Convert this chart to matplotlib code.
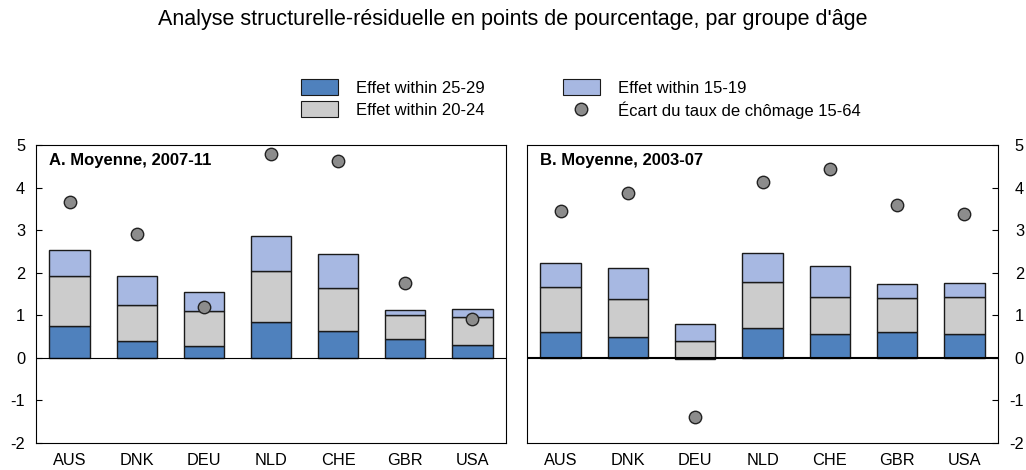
import matplotlib
matplotlib.use("Agg")
import matplotlib.pyplot as plt
import numpy as np
from matplotlib.patches import Patch
from matplotlib.lines import Line2D

plt.rcParams['font.family'] = ['Liberation Sans', 'DejaVu Sans']
plt.rcParams['axes.unicode_minus'] = False

pays = ["AUS", "DNK", "DEU", "NLD", "CHE", "GBR", "USA"]

# Panel A: moyenne 2007-11
a_25_29 = [0.74, 0.40, 0.28, 0.84, 0.64, 0.45, 0.31]
a_20_24 = [1.19, 0.85, 0.81, 1.21, 0.99, 0.55, 0.64]
a_15_19 = [0.61, 0.68, 0.45, 0.82, 0.80, 0.13, 0.19]
a_ecart = [3.65, 2.91, 1.20, 4.79, 4.62, 1.77, 0.92]

# Panel B: moyenne 2003-07
b_25_29 = [0.61, 0.50, -0.03, 0.71, 0.56, 0.61, 0.55]
b_20_24 = [1.06, 0.89, 0.40, 1.08, 0.87, 0.79, 0.89]
b_15_19 = [0.55, 0.72, 0.39, 0.68, 0.72, 0.34, 0.33]
b_ecart = [3.44, 3.87, -1.39, 4.13, 4.44, 3.60, 3.39]

c_25 = "#4f81bd"
c_20 = "#cccccc"
c_15 = "#a7b8e2"
c_dot = "#8c8c8c"

fig = plt.figure(figsize=(10.26, 4.70), dpi=100)
ax_a = fig.add_axes([36/1026, 1 - 443/470, 470/1026, 298/470])
ax_b = fig.add_axes([527/1026, 1 - 443/470, 471/1026, 298/470])


def draw_panel(ax, s25, s20, s15, ecart, label, side):
    x = np.arange(len(pays))
    pos = np.zeros(len(pays))
    neg = np.zeros(len(pays))
    for vals, col in [(s25, c_25), (s20, c_20), (s15, c_15)]:
        vals = np.array(vals)
        bottoms = np.where(vals >= 0, pos, neg)
        ax.bar(x, vals, 0.6, bottom=bottoms, color=col, edgecolor="#1a1a1a", linewidth=1, zorder=2)
        pos = pos + np.clip(vals, 0, None)
        neg = neg + np.clip(vals, None, 0)
    ax.scatter(x, ecart, s=80, color=c_dot, edgecolor="#222222", linewidth=1, zorder=3)
    ax.axhline(0, color="black", linewidth=1.5 if side == "right" else 0.8, zorder=4)
    ax.set_xlim(-0.5, 6.5)
    ax.set_ylim(-2, 5)
    ax.set_xticks(x)
    ax.set_xticklabels(pays, fontsize=11.8)
    ax.set_yticks(range(-2, 6))
    ax.tick_params(axis="x", length=0, pad=7)
    ax.tick_params(axis="y", direction="in", length=4, labelsize=11.8)
    if side == "right":
        ax.yaxis.tick_right()
        ax.tick_params(axis="y", pad=18.7)
        for t in ax.get_yticklabels():
            t.set_ha("right")
    else:
        ax.tick_params(axis="y", pad=7.9)
    for sp in ax.spines.values():
        sp.set_linewidth(0.8)
    ax.text(0.027, 0.972, label, transform=ax.transAxes, fontsize=12, fontweight="bold", va="top", ha="left")


draw_panel(ax_a, a_25_29, a_20_24, a_15_19, a_ecart, "A. Moyenne, 2007-11", "left")
draw_panel(ax_b, b_25_29, b_20_24, b_15_19, b_ecart, "B. Moyenne, 2003-07", "right")

fig.text(0.5, 1 - 20/470, "Analyse structurelle-résiduelle en points de pourcentage, par groupe d'âge",
         ha="center", va="center", fontsize=15.5)

handles = [
    Patch(facecolor=c_25, edgecolor="#1a1a1a", linewidth=0.8),
    Patch(facecolor=c_20, edgecolor="#1a1a1a", linewidth=0.8),
    Patch(facecolor=c_15, edgecolor="#1a1a1a", linewidth=0.8),
    Line2D([], [], marker="o", linestyle="none", markersize=9, markerfacecolor=c_dot, markeredgecolor="#222222"),
]
labels = ["Effet within 25-29", "Effet within 20-24", "Effet within 15-19", "Écart du taux de chômage 15-64"]
fig.legend(handles, labels, ncol=2, loc="center left", bbox_to_anchor=(301/1026, 1 - 99/470), frameon=False,
           fontsize=12, handlelength=2.2, handleheight=1.08, columnspacing=4.7, labelspacing=0.33,
           handletextpad=1.1, borderpad=0, borderaxespad=0)

fig.savefig("out.png", dpi=100)
